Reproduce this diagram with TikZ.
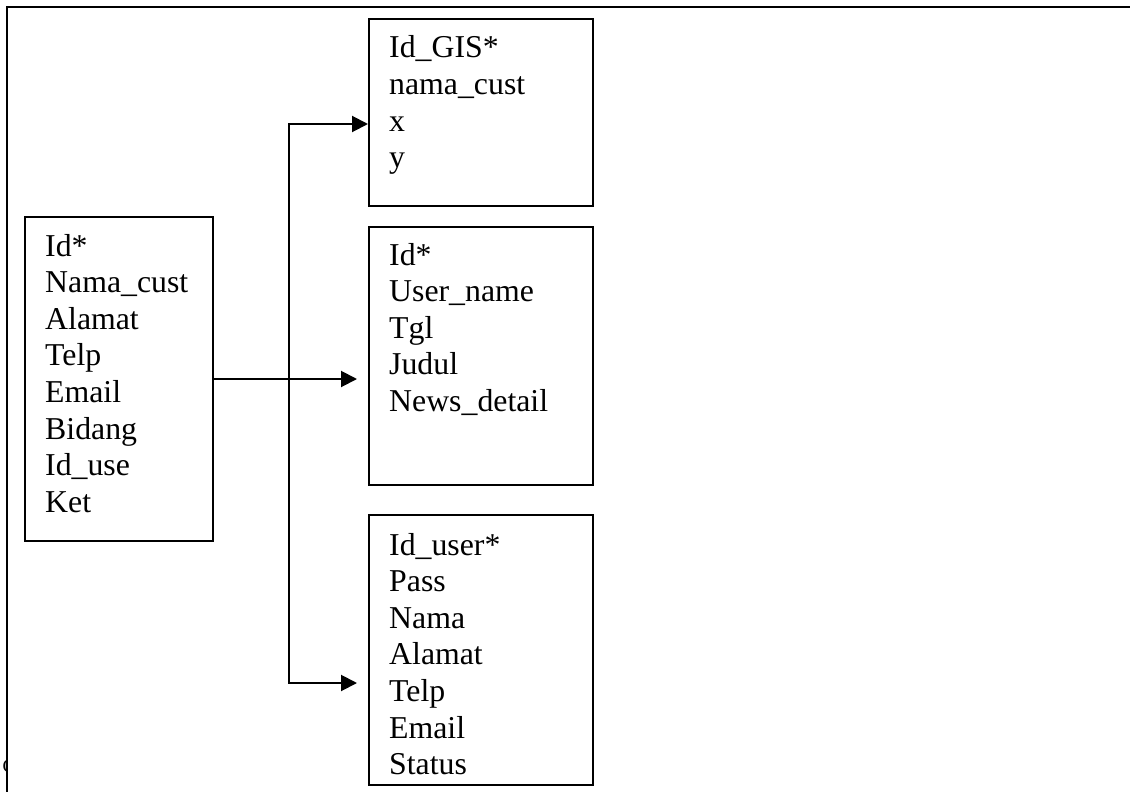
\documentclass[tikz,border=0pt]{standalone}
\usepackage{fontspec}
\setmainfont{Liberation Serif}
\usetikzlibrary{arrows.meta}

\newcommand{\fieldlist}[1]{%
  \fontsize{31.8}{36.6}\selectfont
  \begin{tabular}[t]{@{}l@{}}#1\end{tabular}}

\tikzset{
  tablebox/.style={draw=black, line width=2pt, fill=white, inner sep=0pt,
    rectangle, anchor=center},
  fields/.style={anchor=base west, inner sep=0pt, text=black},
  link/.style={draw=black, line width=2pt,
    -{Triangle[length=16pt,width=16pt]}},
  plainline/.style={draw=black, line width=2pt},
}

\begin{document}
\begin{tikzpicture}[x=1pt, y=-1pt]
  \useasboundingbox (0,0) rectangle (1130,792);
  \fill[white] (0,0) rectangle (1130,792);

  % fragment of a caption letter at the lower left, cut by the frame
  \begin{scope}
    \clip (0,740) rectangle (6.5,792);
    \node[anchor=base west, inner sep=0pt, font=\fontsize{19}{22}\selectfont] (cap) at (2.5,772) {C};
  \end{scope}

  % outer frame (top and left edges)
  \coordinate (frameTL) at (7,7);
  \coordinate (frameTR) at (1131,7);
  \coordinate (frameBL) at (7,793);
  \draw[plainline] (frameTR) -- (frameTL) -- (frameBL);

  % tables
  \node[tablebox, minimum width=188pt, minimum height=324pt] (cust) at (119,379) {};
  \node[tablebox, minimum width=224pt, minimum height=187pt] (gis)  at (481,112.5) {};
  \node[tablebox, minimum width=224pt, minimum height=258pt] (news) at (481,356) {};
  \node[tablebox, minimum width=224pt, minimum height=270pt] (user) at (481,650) {};

  % field names
  \node[fields] (custtxt) at (45,256) {\fieldlist{Id*\\Nama\_cust\\Alamat\\Telp\\Email\\Bidang\\Id\_use\\Ket}};
  \node[fields] (gistxt)  at (389,58)  {\fieldlist{Id\_GIS*\\nama\_cust\\x\\y}};
  \node[fields] (newstxt) at (389,265) {\fieldlist{Id*\\User\_name\\Tgl\\Judul\\News\_detail}};
  \node[fields] (usertxt) at (389,555) {\fieldlist{Id\_user*\\Pass\\Nama\\Alamat\\Telp\\Email\\Status}};

  % connectors
  \coordinate (junc)   at (289,379);
  \coordinate (newsin) at (357,379);
  \coordinate (gisin)  at (368,124);
  \coordinate (userin) at (357,683);

  \draw[link] (cust.east) -- (newsin);
  \draw[link] (junc) |- (gisin);
  \draw[link] (junc) |- (userin);
\end{tikzpicture}
\end{document}
